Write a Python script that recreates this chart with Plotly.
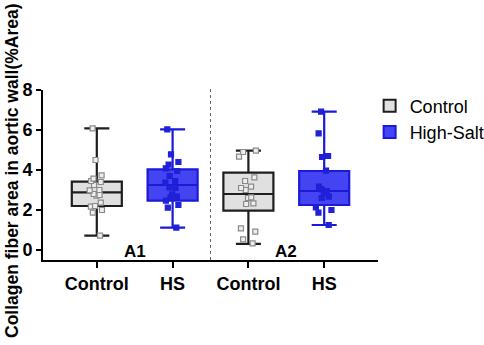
import plotly.graph_objects as go

positions = [0, 1, 2, 3]
tick_labels = ["Control", "HS", "Control", "HS"]
groups = ["Control", "High-Salt", "Control", "High-Salt"]

q1 = [2.2, 2.47, 1.97, 2.25]
median = [2.88, 3.25, 2.8, 2.95]
q3 = [3.42, 4.03, 3.87, 3.95]
lower = [0.72, 1.12, 0.31, 1.25]
upper = [6.08, 6.03, 4.97, 6.92]

pts_a1_ctrl = [6.08, 4.5, 3.73, 3.57, 3.45, 3.4, 3.25, 3.0, 2.98, 2.8, 2.75, 2.72, 2.37, 2.2, 2.17, 2.0, 1.87, 0.72]
pts_a1_hs = [6.03, 4.78, 4.4, 4.27, 4.08, 3.95, 3.7, 3.45, 3.37, 3.13, 3.1, 2.78, 2.67, 2.65, 2.47, 2.25, 2.12, 1.12]
pts_a2_ctrl = [4.97, 4.9, 4.67, 3.63, 3.45, 3.17, 3.0, 3.1, 2.63, 2.6, 2.33, 2.3, 1.08, 0.92, 0.53, 0.33]
pts_a2_hs = [6.92, 5.83, 4.7, 4.65, 3.97, 3.17, 3.03, 2.95, 2.83, 2.67, 2.6, 2.13, 2.0, 1.87, 1.25]
points = [pts_a1_ctrl, pts_a1_hs, pts_a2_ctrl, pts_a2_hs]

group_labels = ["A1", "A2"]
group_centers = [0.5, 2.5]

y_title = "Collagen fiber area in aortic wall(%Area)"

FONT = "Liberation Sans, Arial"
W, H = 484, 345
ML, MR, MT, MB = 43, 106, 90, 85
PW, PH = W - ML - MR, H - MT - MB

fill = {"Control": "#e0e0e0", "High-Salt": "#4444f2"}
edge = {"Control": "#1e1e1e", "High-Salt": "#1a1ad8"}
pt_fill = {"Control": "#eeeeee", "High-Salt": "#2020d8"}
pt_line = {"Control": "#8a8a8a", "High-Salt": "#2020d8"}

fig = go.Figure()
shown = set()
for i, g in enumerate(groups):
    fig.add_trace(go.Box(
        x=[positions[i]], q1=[q1[i]], median=[median[i]], q3=[q3[i]],
        lowerfence=[lower[i]], upperfence=[upper[i]],
        width=0.66, whiskerwidth=0.5,
        fillcolor=fill[g], line=dict(color=edge[g], width=2.2),
        name=g, legendgroup=g, showlegend=g not in shown,
        boxpoints=False, hoverinfo="skip",
    ))
    shown.add(g)
    fig.add_trace(go.Box(
        x=[positions[i]] * len(points[i]), y=points[i],
        boxpoints="all", jitter=0.4, pointpos=0, width=0.66,
        fillcolor="rgba(0,0,0,0)", line=dict(color="rgba(0,0,0,0)", width=0),
        marker=dict(symbol="square", size=5, color=pt_fill[g],
                    line=dict(color=pt_line[g], width=1.2)),
        showlegend=False, hoverinfo="skip",
    ))

fig.add_shape(type="line", xref="x", yref="paper", x0=1.5, x1=1.5, y0=0, y1=1.02,
              line=dict(color="#666666", width=1, dash="dot"))

for lbl, cx in zip(group_labels, group_centers):
    fig.add_annotation(x=cx, y=-0.05, xref="x", yref="y", text=lbl, showarrow=False,
                       font=dict(family=FONT, size=17, color="black", weight="bold"),
                       yanchor="middle")

fig.add_annotation(x=(12 - ML) / PW, y=(H - MB - 171) / PH, xref="paper", yref="paper",
                   text=y_title, showarrow=False, textangle=-90,
                   xanchor="center", yanchor="middle",
                   font=dict(family=FONT, size=17.5, color="black", weight="bold"))

fig.update_layout(
    width=W, height=H,
    margin=dict(l=ML, r=MR, t=MT, b=MB, autoexpand=False),
    plot_bgcolor="white", paper_bgcolor="white",
    boxmode="overlay",
    font=dict(family=FONT, color="black"),
    legend=dict(x=0.975, y=1.015, xanchor="left", yanchor="top",
                font=dict(size=18, family=FONT),
                itemsizing="constant", tracegroupgap=0, bgcolor="rgba(0,0,0,0)"),
    xaxis=dict(
        range=[-0.71, 3.71], tickmode="array", tickvals=positions, ticktext=tick_labels,
        showline=True, linecolor="black", linewidth=2, ticks="outside", ticklen=6,
        tickwidth=2, tickcolor="black", showgrid=False, zeroline=False, automargin=False,
        tickfont=dict(size=18, weight="bold", family=FONT),
    ),
    yaxis=dict(
        range=[-0.5, 8], tickvals=[0, 2, 4, 6, 8],
        showline=True, linecolor="black", linewidth=2, ticks="outside", ticklen=5,
        tickwidth=2, tickcolor="black", showgrid=False, zeroline=False, automargin=False,
        tickfont=dict(size=18, weight="bold", family=FONT),
    ),
)

fig.write_html("out.html", config={"displayModeBar": False},
               post_script="document.body.style.margin='0';")
